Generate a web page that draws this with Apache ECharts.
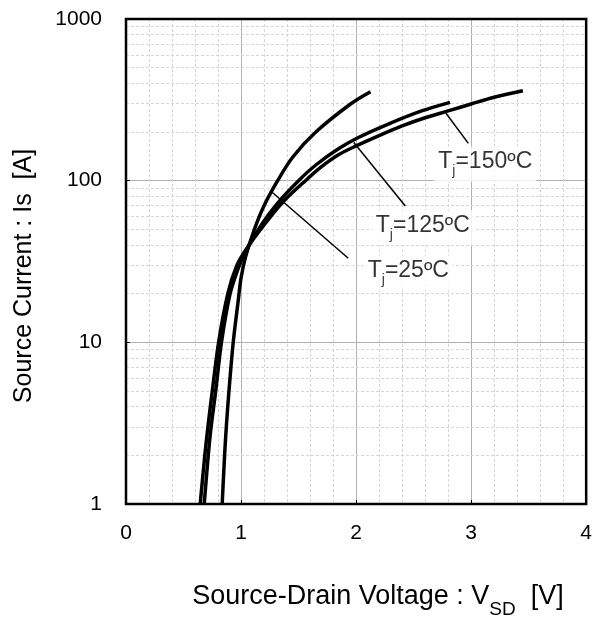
<!DOCTYPE html>
<html><head><meta charset="utf-8">
<script src="https://cdn.jsdelivr.net/npm/echarts@6/dist/echarts.min.js"></script>
<style>html,body{margin:0;padding:0;background:#fff}#c{width:595px;height:619px}</style>
</head><body><div id="c"></div>
<script>
const FONT = "'Liberation Sans', Arial, Helvetica, sans-serif";

// tick labels
const xTickLabels = ['0', '1', '2', '3', '4'];
const yTickLabels = ['1', '10', '100', '1000'];
const yMinorTicks = [2, 3, 4, 5, 6, 7, 8, 9, 20, 30, 40, 50, 60, 70, 80, 90, 200, 300, 400, 500, 600, 700, 800, 900];

// Tj = 25 ºC : Source-Drain Voltage [V] / Source Current [A]
const v25 = [0.836, 0.857, 0.872, 0.895, 0.932, 0.975, 1.0, 1.04, 1.116, 1.20, 1.318, 1.45, 1.65, 1.958, 2.125];
const i25 = [1, 2, 3, 5, 10, 18, 25, 33.9, 50, 70, 100, 140, 200, 300, 355];

// Tj = 125 ºC
const v125 = [0.68, 0.715, 0.74, 0.78, 0.83, 0.905, 0.97, 1.035, 1.18, 1.32, 1.50, 1.65, 1.85, 2.02, 2.28, 2.57, 2.817];
const i125 = [1, 2, 3, 5, 10, 20, 28, 36, 53.8, 73, 100, 125, 158, 185, 224, 270, 305];

// Tj = 150 ºC
const v150 = [0.645, 0.685, 0.712, 0.75, 0.805, 0.885, 0.96, 1.045, 1.21, 1.36, 1.56, 1.70, 1.85, 2.0, 2.2, 2.4, 2.6, 2.8, 3.0, 3.2, 3.45];
const i150 = [1, 2, 3, 5, 10, 20, 29.5, 37.6, 54.3, 73.3, 100, 122, 145, 164, 190, 218, 245, 270, 298, 328, 360];

// annotation pointers (data coordinates) and label anchors
const ptr25 = [[1.26, 86], [1.932, 33.1]];
const ptr125 = [[1.98, 172], [2.428, 69.7]];
const ptr150 = [[2.78, 262], [2.976, 170]];
const labelNames = ['25', '125', '150'];
const labelAnchors = [[2.454, 26.9], [2.580, 51.3], [3.123, 126.7]];

const zip = (v, i) => v.map((x, k) => [x, i[k]]);

const chart = echarts.init(document.getElementById('c'), null, {renderer: 'canvas'});

const curve = (name, data) => ({
  name, type: 'line', data, showSymbol: false, symbol: 'none', smooth: 0.3,
  lineStyle: {color: '#000', width: 3.5, cap: 'butt', join: 'round'}, z: 3, silent: true
});
const pointer = (data) => ({
  type: 'line', data, showSymbol: false, symbol: 'none',
  lineStyle: {color: '#000', width: 1.5}, z: 3, silent: true
});

const rich = {
  t: {fontSize: 23, fontFamily: FONT, color: '#000', lineHeight: 27, verticalAlign: 'top'},
  s: {fontSize: 14, fontFamily: FONT, color: '#000', lineHeight: 14, verticalAlign: 'top', padding: [14, 0, 0, 0]}
};

const option = {
  animation: false,
  backgroundColor: '#fff',
  grid: {left: 126, right: 7, top: 19, bottom: 115, show: true, borderColor: '#000', borderWidth: 2.5, z: 1},
  xAxis: {
    type: 'value', min: 0, max: 4, interval: 1,
    axisLine: {show: false},
    axisTick: {show: true, inside: true, length: 4, lineStyle: {color: '#000', width: 1}},
    axisLabel: {color: '#000', fontSize: 21, fontFamily: FONT, margin: 19,
      formatter: (v) => xTickLabels[Math.round(v)]},
    splitLine: {show: true, lineStyle: {color: '#b0b0b0', width: 1}},
    minorTick: {show: false, splitNumber: 5},
    minorSplitLine: {show: true, lineStyle: {color: '#d6d6d6', width: 1, type: [3, 2]}}
  },
  yAxis: {
    type: 'log', logBase: 10, min: 1, max: 1000,
    axisLine: {show: false},
    axisTick: {show: true, inside: true, length: 4, lineStyle: {color: '#000', width: 1}},
    axisLabel: {color: '#000', fontSize: 21, fontFamily: FONT, margin: 24,
      formatter: (v) => yTickLabels[Math.round(Math.log10(v))]},
    splitLine: {show: true, lineStyle: {color: '#b0b0b0', width: 1}}
  },
  graphic: [
    {type: 'text', x: 378, y: 598, z: 10,
      style: {text: '{m|Source-Drain Voltage : V}{s|SD}{m|  [V]}', align: 'center', verticalAlign: 'middle',
        rich: {
          m: {fontSize: 27, fontFamily: FONT, fill: '#000', color: '#000', lineHeight: 30, verticalAlign: 'top'},
          s: {fontSize: 19, fontFamily: FONT, fill: '#000', color: '#000', lineHeight: 19, verticalAlign: 'top', padding: [17, 0, 0, 0]}
        }}},
    {type: 'text', x: 24, y: 276, rotation: Math.PI / 2, z: 10,
      style: {text: 'Source Current : Is  [A]', font: '25px ' + FONT, fill: '#000', align: 'center', verticalAlign: 'middle'}}
  ],
  series: [
    {type: 'line', data: [], z: 0, silent: true,
      markLine: {silent: true, symbol: 'none', animation: false, z: 0, label: {show: false},
        lineStyle: {color: '#d6d6d6', width: 1, type: [3, 2]},
        data: yMinorTicks.map(v => ({yAxis: v}))}},
    curve('Tj=25ºC', zip(v25, i25)),
    curve('Tj=125ºC', zip(v125, i125)),
    curve('Tj=150ºC', zip(v150, i150)),
    pointer(ptr25), pointer(ptr125), pointer(ptr150),
    {type: 'scatter', symbolSize: 0, z: 5, silent: true,
      data: labelAnchors.map((p, k) => ({value: p, name: labelNames[k]})),
      label: {show: true, position: 'inside', backgroundColor: '#fff', padding: [4, 4, 4, 4],
        formatter: (p) => '{t|T}{s|j}{t|=' + p.name + 'ºC}', rich}}
  ]
};
chart.setOption(option);
</script></body></html>
